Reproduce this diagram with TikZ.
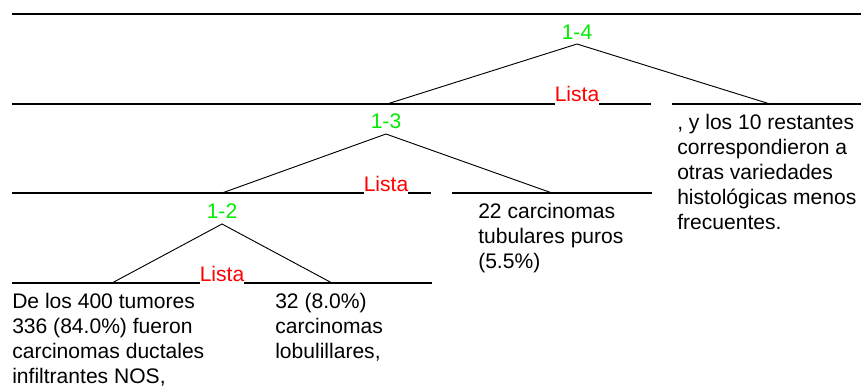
\documentclass[tikz,border=0pt]{standalone}
\usepackage{fontspec}
\setmainfont{Liberation Sans}
\definecolor{lvlgreen}{RGB}{0,235,0}
\definecolor{listred}{RGB}{255,0,0}
\newcommand\leaflines[1]{\begin{tabular}[t]{@{}l@{}}#1\end{tabular}}
\begin{document}
\begin{tikzpicture}[x=0.75pt,y=-0.75pt,
  txt/.style={font=\fontsize{15.8}{18.75}\selectfont, inner sep=0pt},
  rule/.style={line width=0.8pt},
  branch/.style={line width=0.7pt},
  level/.style={txt, text=lvlgreen, anchor=base},
  lista/.style={txt, text=listred, anchor=base, fill=white,
                inner xsep=0pt, inner ysep=0.5pt, text depth=3pt},
  leaf/.style={txt, anchor=base west}]
\useasboundingbox (0,0) rectangle (861,387);

% horizontal rules of each level
\coordinate (r0w) at (12,14);     \coordinate (r0e) at (861,14);
\coordinate (r1w) at (12,104);    \coordinate (r1m) at (651,104);
\coordinate (r1n) at (672,104);   \coordinate (r1e) at (861,104);
\coordinate (r2w) at (12,193);    \coordinate (r2m) at (431,193);
\coordinate (r2n) at (452,193);   \coordinate (r2e) at (652,193);
\coordinate (r3w) at (12,283);    \coordinate (r3e) at (432,283);
\draw[rule] (r0w) -- (r0e);
\draw[rule] (r1w) -- (r1m);  \draw[rule] (r1n) -- (r1e);
\draw[rule] (r2w) -- (r2m);  \draw[rule] (r2n) -- (r2e);
\draw[rule] (r3w) -- (r3e);

% level labels
\node[level] (l4) at (577,39)  {1-4};
\node[level] (l3) at (386,128) {1-3};
\node[level] (l2) at (222,218) {1-2};

% apexes and branch ends
\coordinate (a4) at (577,44);
\coordinate (a3) at (386,134);
\coordinate (a2) at (222,224);
\coordinate (e4l) at (387,104); \coordinate (e4r) at (770,104);
\coordinate (e3l) at (222,193); \coordinate (e3r) at (552,193);
\coordinate (e2l) at (112,283); \coordinate (e2r) at (332,283);
\draw[branch] (e4l) -- (a4) -- (e4r);
\draw[branch] (e3l) -- (a3) -- (e3r);
\draw[branch] (e2l) -- (a2) -- (e2r);

% list markers on the rules
\node[lista] (s4) at (577,101) {Lista};
\node[lista] (s3) at (386,191) {Lista};
\node[lista] (s2) at (222,281) {Lista};

% leaf texts
\node[leaf] (tNOS) at (12,308) {\leaflines{De los 400 tumores\\336 (84.0\%) fueron\\carcinomas ductales\\infiltrantes NOS,}};
\node[leaf] (tLob) at (275,308) {\leaflines{32 (8.0\%)\\carcinomas\\lobulillares,}};
\node[leaf] (tTub) at (478,218) {\leaflines{22 carcinomas\\tubulares puros\\(5.5\%)}};
\node[leaf] (tRest) at (677,129) {\leaflines{, y los 10 restantes\\correspondieron a\\otras variedades\\histológicas menos\\frecuentes.}};
\end{tikzpicture}
\end{document}
